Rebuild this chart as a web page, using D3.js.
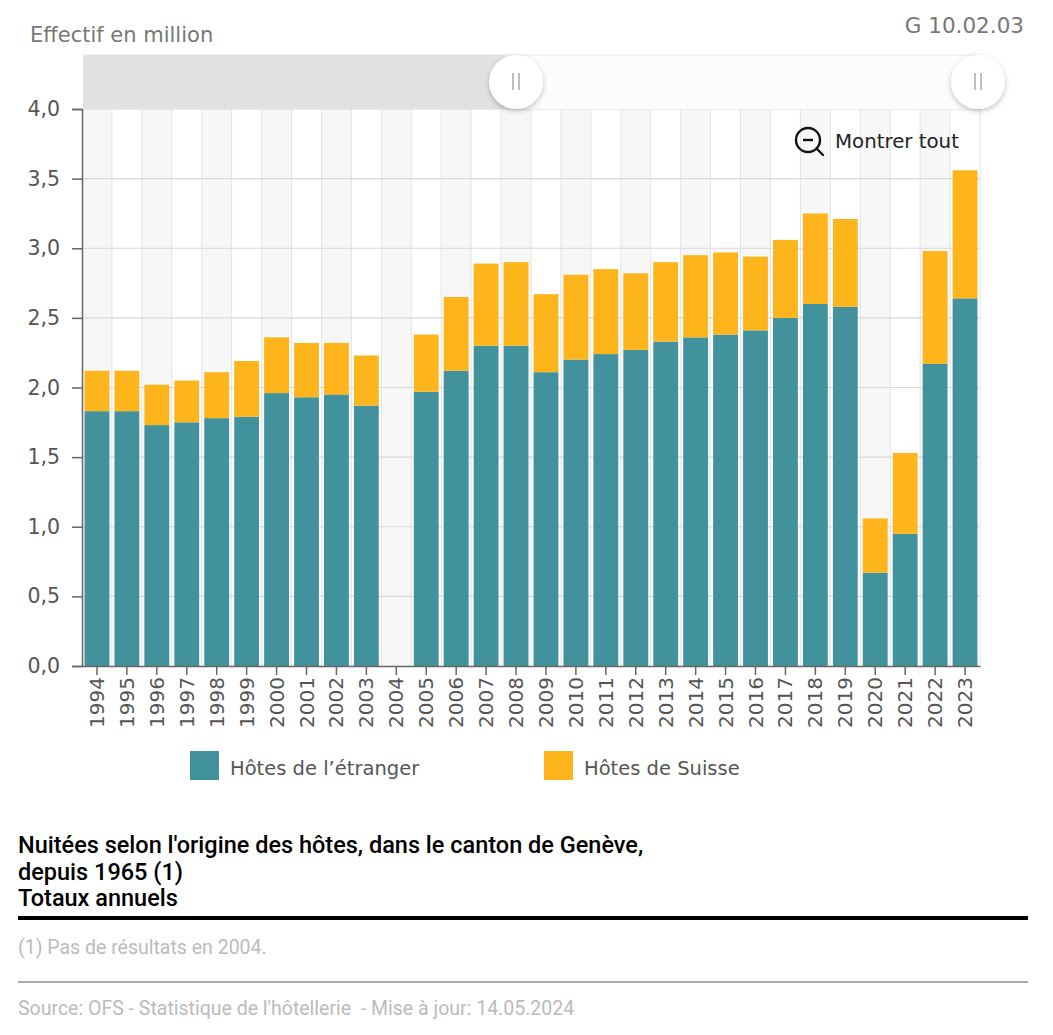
<!DOCTYPE html>
<html><head><meta charset="utf-8">
<script src="https://cdn.jsdelivr.net/npm/d3@7"></script>
<style>
html,body{margin:0;padding:0;background:#fff;}
svg{display:block;}
</style></head>
<body>
<svg id="chart" width="1053" height="1035"></svg>
<script>
const years = ["1994","1995","1996","1997","1998","1999","2000","2001","2002","2003","2004","2005","2006","2007","2008","2009","2010","2011","2012","2013","2014","2015","2016","2017","2018","2019","2020","2021","2022","2023"];
const foreignGuests = [1.83,1.83,1.73,1.75,1.78,1.79,1.96,1.93,1.95,1.87,null,1.97,2.12,2.30,2.30,2.11,2.20,2.24,2.27,2.33,2.36,2.38,2.41,2.50,2.60,2.58,0.67,0.95,2.17,2.64];
const swissGuests = [0.29,0.29,0.29,0.30,0.33,0.40,0.40,0.39,0.37,0.36,null,0.41,0.53,0.59,0.60,0.56,0.61,0.61,0.55,0.57,0.59,0.59,0.53,0.56,0.65,0.63,0.39,0.58,0.81,0.92];
const yTicks = [0,0.5,1,1.5,2,2.5,3,3.5,4];
const seriesNames = ["Hôtes de l’étranger","Hôtes de Suisse"];
const seriesColors = ["#41929c","#fdb51b"];

const svg = d3.select("#chart");
const L = 82, R = 980, T = 109, B = 666;
const FONT = "'DejaVu Sans', Verdana, sans-serif";
const fmt = v => d3.format(".1f")(v).replace(".", ",");

const x = d3.scaleBand().domain(years).range([L, R]).paddingInner(0.17).paddingOuter(0.085);
const y = d3.scaleLinear().domain([0, 4]).range([B, T]);
const step = x.step();

// stripes
svg.append("g").selectAll("rect").data(years).join("rect")
  .attr("x", d => x(d) - step * 0.085)
  .attr("y", T).attr("width", step).attr("height", B - T)
  .attr("fill", (d, i) => i % 2 === 0 ? "#f7f7f7" : "#ffffff");
// vertical grid lines
svg.append("g").selectAll("line").data(years.slice(1)).join("line")
  .attr("x1", d => x(d) - step * 0.085).attr("x2", d => x(d) - step * 0.085)
  .attr("y1", T).attr("y2", B).attr("stroke", "#e4e4e4").attr("stroke-width", 1);
svg.append("line").attr("x1", R).attr("x2", R).attr("y1", T).attr("y2", B).attr("stroke", "#e4e4e4");
// horizontal grid
svg.append("g").selectAll("line").data(yTicks.slice(1)).join("line")
  .attr("x1", L).attr("x2", R).attr("y1", d => y(d)).attr("y2", d => y(d))
  .attr("stroke", "#d9d9d9").attr("stroke-width", 1.2);

// bars
const stackData = years.map((yr, i) => ({year: yr, f: foreignGuests[i], s: swissGuests[i]})).filter(d => d.f !== null);
svg.append("g").selectAll("rect").data(stackData).join("rect")
  .attr("x", d => x(d.year)).attr("width", x.bandwidth())
  .attr("y", d => y(d.f)).attr("height", d => y(0) - y(d.f))
  .attr("fill", seriesColors[0]);
svg.append("g").selectAll("rect").data(stackData).join("rect")
  .attr("x", d => x(d.year)).attr("width", x.bandwidth())
  .attr("y", d => y(d.f + d.s)).attr("height", d => y(d.f) - y(d.f + d.s))
  .attr("fill", seriesColors[1]);

// axes
const yAxis = svg.append("g").attr("transform", `translate(${L},0)`)
  .call(d3.axisLeft(y).tickValues(yTicks).tickFormat(fmt).tickSize(10).tickPadding(12));
yAxis.select(".domain").attr("stroke", "#666").attr("stroke-width", 1.5);
yAxis.selectAll(".tick line").attr("stroke", "#666").attr("stroke-width", 1.5);
yAxis.selectAll("text").attr("font-family", FONT).attr("font-size", 20.5).attr("fill", "#555");

const xAxis = svg.append("g").attr("transform", `translate(0,${B})`)
  .call(d3.axisBottom(x).tickSize(9).tickSizeOuter(0).tickPadding(6));
xAxis.select(".domain").attr("stroke", "#666").attr("stroke-width", 1.5);
xAxis.selectAll(".tick line").attr("stroke", "#666").attr("stroke-width", 1.5);
xAxis.selectAll("text")
  .attr("font-family", FONT).attr("font-size", 20).attr("fill", "#555")
  .attr("transform", "rotate(-90)").attr("text-anchor", "end")
  .attr("x", -11).attr("y", 0).attr("dy", "0.35em");

// navigator
svg.append("rect").attr("x", L + 1).attr("y", 55).attr("width", 516 - L - 1).attr("height", 54).attr("fill", "#e1e1e1");
svg.append("rect").attr("x", 516).attr("y", 55).attr("width", 979 - 516).attr("height", 54).attr("fill", "#fcfcfc");
svg.append("line").attr("x1", L + 1).attr("x2", 979).attr("y1", 55).attr("y2", 55).attr("stroke", "#e6e6e6");
const defs = svg.append("defs");
const f = defs.append("filter").attr("id", "sh").attr("x", "-50%").attr("y", "-50%").attr("width", "200%").attr("height", "200%");
f.append("feDropShadow").attr("dx", 0).attr("dy", 2).attr("stdDeviation", 2.5).attr("flood-color", "#000").attr("flood-opacity", 0.25);
[516, 978].forEach(cx => {
  svg.append("circle").attr("cx", cx).attr("cy", 82).attr("r", 27).attr("fill", "#fff").attr("filter", "url(#sh)");
  [-3, 3].forEach(dx => svg.append("line").attr("x1", cx + dx).attr("x2", cx + dx).attr("y1", 73).attr("y2", 90)
    .attr("stroke", "#aaa").attr("stroke-width", 1.5));
});

// header texts
svg.append("text").attr("x", 30).attr("y", 42).text("Effectif en million")
  .attr("font-family", FONT).attr("font-size", 21).attr("fill", "#777");
svg.append("text").attr("x", 1024).attr("y", 33).attr("text-anchor", "end").text("G 10.02.03")
  .attr("font-family", FONT).attr("font-size", 21.5).attr("fill", "#777");

// reset zoom button
const zb = svg.append("g").attr("transform", "translate(808,140)");
zb.append("circle").attr("r", 12).attr("fill", "none").attr("stroke", "#111").attr("stroke-width", 2.4);
zb.append("line").attr("x1", -5).attr("x2", 5).attr("y1", 0).attr("y2", 0).attr("stroke", "#111").attr("stroke-width", 2.4);
zb.append("line").attr("x1", 8.5).attr("x2", 15).attr("y1", 8.5).attr("y2", 15).attr("stroke", "#111").attr("stroke-width", 2.4).attr("stroke-linecap", "round");
svg.append("text").attr("x", 835).attr("y", 148).text("Montrer tout")
  .attr("font-family", FONT).attr("font-size", 19.8).attr("fill", "#222");

// legend
const legX = [190, 544];
seriesNames.forEach((n, i) => {
  svg.append("rect").attr("x", legX[i]).attr("y", 751).attr("width", 29).attr("height", 29).attr("fill", seriesColors[i]);
  svg.append("text").attr("x", legX[i] + 40).attr("y", 775).text(n)
    .attr("font-family", FONT).attr("font-size", 19.5).attr("fill", "#555");
});

// title & notes
const titleLines = ["Nuitées selon l'origine des hôtes, dans le canton de Genève,", "depuis 1965 (1)", "Totaux annuels"];
titleLines.forEach((t, i) => svg.append("text").attr("x", 18).attr("y", 853 + i * 26.5).text(t)
  .attr("font-family", "Roboto, sans-serif").attr("font-size", 23.5).attr("font-weight", 500).attr("fill", "#000"));
svg.append("rect").attr("x", 18).attr("y", 916).attr("width", 1010).attr("height", 4).attr("fill", "#000");
svg.append("text").attr("x", 18).attr("y", 954).text("(1) Pas de résultats en 2004.")
  .attr("font-family", "Roboto, sans-serif").attr("font-size", 19.5).attr("fill", "#bbb");
svg.append("rect").attr("x", 18).attr("y", 981).attr("width", 1010).attr("height", 2).attr("fill", "#aaa");
svg.append("text").attr("x", 18).attr("y", 1015).text("Source: OFS - Statistique de l'hôtellerie  - Mise à jour: 14.05.2024")
  .attr("font-family", "Roboto, sans-serif").attr("font-size", 19.5).attr("fill", "#bbb").attr("xml:space", "preserve");
</script>
</body></html>
